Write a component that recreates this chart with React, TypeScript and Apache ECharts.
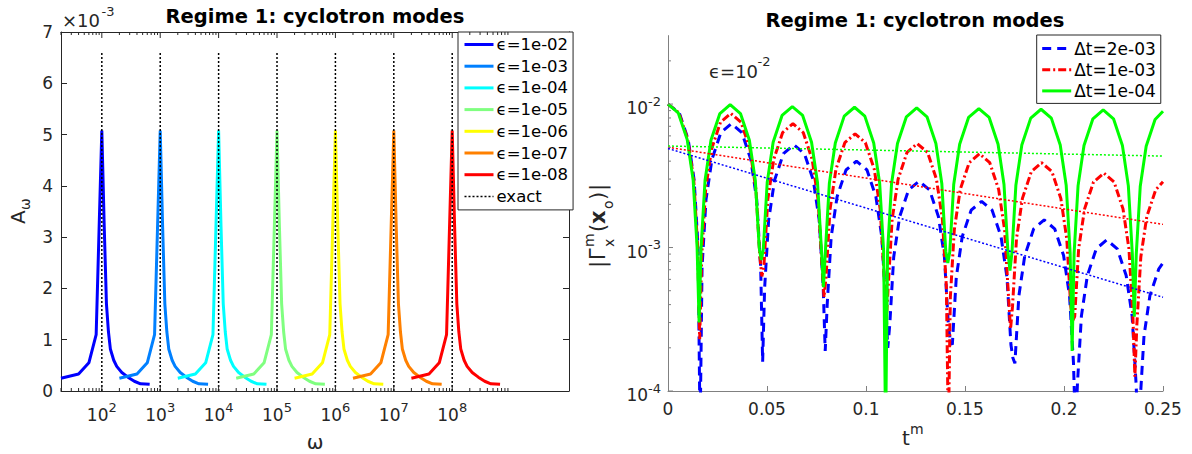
import React, { useEffect, useRef } from 'react';
import * as echarts from 'echarts';

const FONT = 'DejaVu Sans';
const AXIS_DARK = '#262626';
const AXIS_GRAY = '#808080';

// ---------------- Left panel: A_omega versus omega ----------------
const epsilonValues = [1e-2, 1e-3, 1e-4, 1e-5, 1e-6, 1e-7, 1e-8];
const epsilonLabels = ['ϵ=1e-02', 'ϵ=1e-03', 'ϵ=1e-04', 'ϵ=1e-05', 'ϵ=1e-06', 'ϵ=1e-07', 'ϵ=1e-08'];
const jetColors = ['#0000ff', '#0080ff', '#00ffff', '#80ff80', '#ffff00', '#ff8000', '#ff0000'];
// sampled frequencies in units of the resonance 1/epsilon (same shape for every epsilon)
const omegaOverResonance = [0.2, 0.4, 0.6, 0.8, 1.0, 1.1, 1.2, 1.3, 1.4, 1.6, 1.8, 2.2, 2.8, 3.6, 4.6, 6.6];
// A_omega in units of 1e-3
const amplitudeE3 = [0.25, 0.33, 0.55, 1.1, 5.08, 3.2, 1.7, 1.15, 0.82, 0.6, 0.48, 0.36, 0.27, 0.19, 0.14, 0.13];
const exactOmega = [1e2, 1e3, 1e4, 1e5, 1e6, 1e7, 1e8];
const exactTopE3 = 6.6;
const leftXMajorTicks = [1e2, 1e3, 1e4, 1e5, 1e6, 1e7, 1e8];
const leftXMinorMultipliers = [2, 3, 4, 5, 6, 7, 8, 9];
const leftXMinorDecades = [1e1, 1e2, 1e3, 1e4, 1e5, 1e6, 1e7, 1e8];

// ---------------- Right panel: |Gamma^m_x(x_o)| versus t^m ----------------
const dtLabels = ['Δt=2e-03', 'Δt=1e-03', 'Δt=1e-04'];
const dtColors = ['#0000ff', '#ff0000', '#00ff00'];

const blueDt2e3 = [
  [0, 0.01], [0.0057, 0.00867], [0.0102, 0.00565], [0.0132, 0.00296], [0.0152, 0.001], [0.0162, 0.00005],
  [0.0172, 0.00073], [0.0192, 0.00216], [0.0222, 0.00412], [0.0267, 0.00633], [0.032, 0.0073], [0.0373, 0.00633], [0.0418, 0.00412], [0.0448, 0.00216], [0.0468, 0.00073], [0.0478, 0.00016],
  [0.0488, 0.00052], [0.0508, 0.00154], [0.0538, 0.00294], [0.0583, 0.00451], [0.0636, 0.0052], [0.0689, 0.00451], [0.0734, 0.00294], [0.0764, 0.00154], [0.0784, 0.00052], [0.0794, 0.00019],
  [0.0804, 0.0004], [0.0824, 0.00118], [0.0854, 0.00226], [0.0899, 0.00347], [0.0952, 0.004], [0.1005, 0.00347], [0.105, 0.00226], [0.108, 0.00118], [0.11, 0.0004], [0.111, 0.0002],
  [0.112, 0.00029], [0.114, 0.00086], [0.117, 0.00164], [0.1215, 0.00252], [0.1268, 0.0029], [0.1321, 0.00252], [0.1366, 0.00164], [0.1396, 0.00086], [0.1416, 0.00029], [0.1426, 0.00022],
  [0.1436, 0.00021], [0.1456, 0.00062], [0.1486, 0.00119], [0.1531, 0.00182], [0.1584, 0.0021], [0.1637, 0.00182], [0.1682, 0.00119], [0.1712, 0.00062], [0.1732, 0.00021], [0.1742, 0.00017],
  [0.1752, 0.000156], [0.1772, 0.00046], [0.1802, 0.00088], [0.1847, 0.00135], [0.19, 0.00156], [0.1953, 0.00135], [0.1998, 0.00088], [0.2028, 0.00046], [0.2048, 0.000156], [0.2058, 0.00005],
  [0.2068, 0.000113], [0.2088, 0.000334], [0.2118, 0.000638], [0.2163, 0.00098], [0.2216, 0.00113], [0.2269, 0.00098], [0.2314, 0.000638], [0.2344, 0.000334], [0.2364, 0.000113], [0.2374, 0.00005],
  [0.2384, 0.000082], [0.2404, 0.000242], [0.2434, 0.000463], [0.2479, 0.000711], [0.25, 0.00078],
];

const redDt1e3 = [
  [0, 0.01], [0.0055, 0.00867], [0.01, 0.00565], [0.013, 0.00296], [0.015, 0.001], [0.016, 0.00023],
  [0.017, 0.00086], [0.019, 0.00254], [0.022, 0.00486], [0.0265, 0.00746], [0.0317, 0.0086], [0.0369, 0.00746], [0.0414, 0.00486], [0.0444, 0.00254], [0.0464, 0.00086], [0.0474, 0.00063],
  [0.0484, 0.00073], [0.0504, 0.00216], [0.0534, 0.00412], [0.0579, 0.00633], [0.0631, 0.0073], [0.0683, 0.00633], [0.0728, 0.00412], [0.0758, 0.00216], [0.0778, 0.00073], [0.0788, 0.00045],
  [0.0798, 0.00062], [0.0818, 0.00183], [0.0848, 0.0035], [0.0893, 0.00538], [0.0945, 0.0062], [0.0997, 0.00538], [0.1042, 0.0035], [0.1072, 0.00183], [0.1092, 0.00062], [0.1102, 0.0003],
  [0.1112, 0.00053], [0.1132, 0.00157], [0.1162, 0.00299], [0.1207, 0.0046], [0.1259, 0.0053], [0.1311, 0.0046], [0.1356, 0.00299], [0.1386, 0.00157], [0.1406, 0.00053], [0.1416, 0.00005],
  [0.1426, 0.00045], [0.1446, 0.00133], [0.1476, 0.00254], [0.1521, 0.0039], [0.1573, 0.0045], [0.1625, 0.0039], [0.167, 0.00254], [0.17, 0.00133], [0.172, 0.00045], [0.173, 0.00027],
  [0.174, 0.00039], [0.176, 0.00115], [0.179, 0.0022], [0.1835, 0.00338], [0.1887, 0.0039], [0.1939, 0.00338], [0.1984, 0.0022], [0.2014, 0.00115], [0.2034, 0.00039], [0.2044, 0.00031],
  [0.2054, 0.00033], [0.2074, 0.00098], [0.2104, 0.00186], [0.2149, 0.00286], [0.2201, 0.0033], [0.2253, 0.00286], [0.2298, 0.00186], [0.2328, 0.00098], [0.2348, 0.00033], [0.2358, 0.000126],
  [0.2368, 0.00029], [0.2388, 0.00086], [0.2418, 0.00164], [0.2463, 0.00252], [0.25, 0.00287],
];

const greenDt1e4 = [
  [0, 0.01], [0.0052, 0.00867], [0.0097, 0.00565], [0.0127, 0.00296], [0.0147, 0.001], [0.0157, 0.0003],
  [0.0167, 0.00099], [0.0187, 0.00293], [0.0217, 0.00559], [0.0262, 0.00859], [0.0314, 0.0099], [0.0366, 0.00859], [0.0411, 0.00559], [0.0441, 0.00293], [0.0461, 0.00099], [0.0471, 0.00082],
  [0.0481, 0.00096], [0.0501, 0.00284], [0.0531, 0.00542], [0.0576, 0.00833], [0.0628, 0.0096], [0.068, 0.00833], [0.0725, 0.00542], [0.0755, 0.00284], [0.0775, 0.00096], [0.0785, 0.00053],
  [0.0795, 0.00095], [0.0815, 0.00281], [0.0845, 0.00536], [0.089, 0.00824], [0.0942, 0.0095], [0.0994, 0.00824], [0.1039, 0.00536], [0.1069, 0.00281], [0.1089, 0.00095], [0.1099, 0.00005],
  [0.1109, 0.00094], [0.1129, 0.00278], [0.1159, 0.00531], [0.1204, 0.00815], [0.1256, 0.0094], [0.1308, 0.00815], [0.1353, 0.00531], [0.1383, 0.00278], [0.1403, 0.00094], [0.1413, 0.00078],
  [0.1423, 0.00093], [0.1443, 0.00275], [0.1473, 0.00525], [0.1518, 0.00807], [0.157, 0.0093], [0.1622, 0.00807], [0.1667, 0.00525], [0.1697, 0.00275], [0.1717, 0.00093], [0.1727, 0.00069],
  [0.1737, 0.00092], [0.1757, 0.00272], [0.1787, 0.00519], [0.1832, 0.00798], [0.1884, 0.0092], [0.1936, 0.00798], [0.1981, 0.00519], [0.2011, 0.00272], [0.2031, 0.00092], [0.2041, 0.00019],
  [0.2051, 0.00091], [0.2071, 0.00269], [0.2101, 0.00514], [0.2146, 0.00789], [0.2198, 0.0091], [0.225, 0.00789], [0.2295, 0.00514], [0.2325, 0.00269], [0.2345, 0.00091], [0.2355, 0.00033],
  [0.2365, 0.0009], [0.2385, 0.00266], [0.2415, 0.00508], [0.246, 0.00781], [0.25, 0.0089],
];

// decay-rate fits (dotted), end points at t=0 and t=0.25
const blueFit = [[0, 0.0049], [0.25, 0.00045]];
const redFit = [[0, 0.005], [0.25, 0.00145]];
const greenFit = [[0, 0.0051], [0.25, 0.00434]];

const rightYMajorTicks = [1e-4, 1e-3, 1e-2];
const rightYMinorTicks = [
  2e-4, 3e-4, 4e-4, 5e-4, 6e-4, 7e-4, 8e-4, 9e-4,
  2e-3, 3e-3, 4e-3, 5e-3, 6e-3, 7e-3, 8e-3, 9e-3, 2e-2,
];

const supRich = {
  b: { fontSize: 17, fontFamily: FONT, color: AXIS_DARK, padding: [8, 0, 0, 0] },
  s: { fontSize: 13, fontFamily: FONT, color: AXIS_DARK, padding: [0, 0, 6, 0] },
};

function powerLabel(v: number, lo: number, hi: number) {
  const e = Math.round(Math.log10(v));
  if (Math.abs(v / Math.pow(10, e) - 1) > 1e-6 || e < lo || e > hi) return '';
  return `{b|10}{s|${e}}`;
}

function buildOption() {
  const leftCurves = epsilonValues.map((eps, k) => ({
    type: 'line',
    name: epsilonLabels[k],
    xAxisIndex: 0,
    yAxisIndex: 0,
    symbol: 'none',
    lineStyle: { color: jetColors[k], width: 3 },
    itemStyle: { color: jetColors[k] },
    data: omegaOverResonance.map((r, i) => [r / eps, amplitudeE3[i]]),
  }));
  const exactLines = exactOmega.map((w) => ({
    type: 'line',
    name: 'exact',
    xAxisIndex: 0,
    yAxisIndex: 0,
    symbol: 'none',
    lineStyle: { color: '#000', width: 1.5, type: [2, 2] },
    itemStyle: { color: '#000' },
    data: [[w, 0], [w, exactTopE3]],
  }));

  const leftTickData: number[][] = [];
  leftXMajorTicks.forEach((v) => leftTickData.push([v, 6]));
  leftXMinorDecades.forEach((d) =>
    leftXMinorMultipliers.forEach((m) => {
      const v = m * d;
      if (v >= 20) leftTickData.push([v, 3]);
    })
  );

  const rightTickData: number[][] = [];
  rightYMajorTicks.forEach((v) => rightTickData.push([0, v, 5]));
  rightYMinorTicks.forEach((v) => rightTickData.push([0, v, 3]));

  const rightCurves = [blueDt2e3, redDt1e3, greenDt1e4].map((d, k) => ({
    type: 'line',
    name: dtLabels[k],
    xAxisIndex: 2,
    yAxisIndex: 2,
    symbol: 'none',
    lineStyle: {
      color: dtColors[k],
      width: 3,
      type: k === 0 ? [9, 6] : k === 1 ? [8, 3, 2, 3] : 'solid',
    },
    itemStyle: { color: dtColors[k] },
    data: d,
  }));
  const fits = [blueFit, redFit, greenFit].map((d, k) => ({
    type: 'line',
    name: 'fit' + k,
    xAxisIndex: 2,
    yAxisIndex: 2,
    symbol: 'none',
    lineStyle: { color: dtColors[k], width: 1.5, type: [2, 2] },
    data: d,
  }));

  const txt = (x: number, y: number, text: string, size: number, extra: any = {}) => ({
    type: 'text',
    x,
    y,
    style: {
      text,
      fontSize: size,
      fontFamily: FONT,
      fill: extra.fill || AXIS_DARK,
      fontWeight: extra.bold ? 'bold' : 'normal',
      align: extra.align || 'left',
      verticalAlign: 'middle',
    },
  });

  const legendCommon = {
    orient: 'vertical',
    itemWidth: 29,
    itemHeight: 12,
    backgroundColor: '#fff',
    borderColor: AXIS_DARK,
    borderWidth: 1,
    borderRadius: 0,
    selectedMode: false,
    itemStyle: { opacity: 0 },
    lineStyle: { width: 3, opacity: 1 },
  };

  return {
    animation: false,
    textStyle: { fontFamily: FONT },
    grid: [
      { left: 61, top: 32, width: 508, height: 359, show: false },
      { left: 668, top: 35.6, width: 495, height: 355.4, show: false },
    ],
    xAxis: [
      {
        gridIndex: 0, type: 'log', min: 20, max: 1e10, position: 'bottom',
        axisLine: { show: true, onZero: false, lineStyle: { color: AXIS_DARK, width: 1 } },
        axisTick: { show: false }, splitLine: { show: false }, minorTick: { show: false },
        axisLabel: {
          margin: 7, fontSize: 17, color: AXIS_DARK,
          formatter: (v: number) => powerLabel(v, 2, 8), rich: supRich,
        },
      },
      {
        gridIndex: 0, type: 'log', min: 20, max: 1e10, position: 'top',
        axisLine: { show: true, onZero: false, lineStyle: { color: AXIS_DARK, width: 1 } },
        axisTick: { show: false }, splitLine: { show: false }, axisLabel: { show: false },
      },
      {
        gridIndex: 1, type: 'value', min: 0, max: 0.25, interval: 0.05, position: 'bottom',
        axisLine: { show: true, onZero: false, lineStyle: { color: AXIS_GRAY, width: 1 } },
        axisTick: { show: true, inside: true, length: 5, lineStyle: { color: AXIS_GRAY } },
        splitLine: { show: false },
        axisLabel: { margin: 9, fontSize: 17, color: AXIS_DARK, fontFamily: FONT },
      },
    ],
    yAxis: [
      {
        gridIndex: 0, type: 'value', min: 0, max: 7, interval: 1, position: 'left',
        axisLine: { show: true, onZero: false, lineStyle: { color: AXIS_DARK, width: 1 } },
        axisTick: { show: true, inside: true, length: 6, lineStyle: { color: AXIS_DARK } },
        splitLine: { show: false },
        axisLabel: { margin: 8, fontSize: 17, color: AXIS_DARK, fontFamily: FONT },
      },
      {
        gridIndex: 0, type: 'value', min: 0, max: 7, interval: 1, position: 'right',
        axisLine: { show: true, onZero: false, lineStyle: { color: AXIS_DARK, width: 1 } },
        axisTick: { show: true, inside: true, length: 6, lineStyle: { color: AXIS_DARK } },
        splitLine: { show: false }, axisLabel: { show: false },
      },
      {
        gridIndex: 1, type: 'log', min: 1e-4, max: 0.03, position: 'left',
        axisLine: { show: true, onZero: false, lineStyle: { color: AXIS_GRAY, width: 1 } },
        axisTick: { show: false }, splitLine: { show: false }, minorTick: { show: false },
        axisLabel: {
          margin: 7, fontSize: 17, color: AXIS_DARK,
          formatter: (v: number) => powerLabel(v, -4, -2), rich: supRich,
        },
      },
    ],
    legend: [
      {
        ...legendCommon,
        data: [
          ...epsilonLabels,
          { name: 'exact', lineStyle: { width: 1.5, color: '#000', type: [2, 2] } },
        ],
        left: 458, top: 32,
        padding: [4, 5, 5, 5], itemGap: 4.7,
        textStyle: { fontSize: 16.5, fontFamily: FONT, color: '#000', padding: [0, 0, 0, -2] },
      },
      {
        ...legendCommon,
        data: dtLabels,
        left: 1036.7, top: 35,
        padding: [5, 5, 4, 4], itemGap: 4.2,
        textStyle: { fontSize: 17, fontFamily: FONT, color: '#000', padding: [0, 0, 0, -2] },
      },
    ],
    series: [
      ...leftCurves,
      ...exactLines,
      {
        type: 'custom', name: 'leftTicks', xAxisIndex: 0, yAxisIndex: 0, silent: true, z: 5,
        data: leftTickData,
        renderItem: (params: any, api: any) => {
          const v = api.value(0);
          const len = api.value(1);
          const b = api.coord([v, 0]);
          const t = api.coord([v, 7]);
          const st = { stroke: AXIS_DARK, lineWidth: 1 };
          return {
            type: 'group',
            children: [
              { type: 'line', shape: { x1: b[0], y1: b[1], x2: b[0], y2: b[1] - len }, style: st },
              { type: 'line', shape: { x1: t[0], y1: t[1], x2: t[0], y2: t[1] + len }, style: st },
            ],
          };
        },
      },
      ...rightCurves,
      ...fits,
      {
        type: 'custom', name: 'rightTicks', xAxisIndex: 2, yAxisIndex: 2, silent: true, z: 5,
        data: rightTickData,
        renderItem: (params: any, api: any) => {
          const p = api.coord([0, api.value(1)]);
          const len = api.value(2);
          return {
            type: 'line',
            shape: { x1: p[0], y1: p[1], x2: p[0] + len, y2: p[1] },
            style: { stroke: AXIS_GRAY, lineWidth: 1 },
          };
        },
      },
    ],
    graphic: [
      txt(315, 16, 'Regime 1: cyclotron modes', 19.5, { bold: true, align: 'center', fill: '#000' }),
      txt(915, 20, 'Regime 1: cyclotron modes', 19.5, { bold: true, align: 'center', fill: '#000' }),
      txt(62, 20, '×10', 18),
      txt(101.5, 11, '-3', 13),
      txt(315, 442, 'ω', 20, { align: 'center' }),
      txt(902, 438, 't', 20),
      txt(910, 429, 'm', 14),
      txt(709, 71, 'ϵ=10', 18),
      txt(757.5, 61, '-2', 13),
      {
        type: 'group', x: 18, y: 224, rotation: Math.PI / 2,
        children: [txt(0, 0, 'A', 20), txt(14, 7, 'ω', 14)],
      },
      {
        type: 'group', x: 597.5, y: 268, rotation: Math.PI / 2,
        children: [
          txt(0, 0, '|', 21),
          txt(8, 0, 'Γ', 21),
          txt(21, -9, 'm', 14),
          txt(21, 11, 'x', 14),
          txt(36, 0, '(', 21),
          txt(44, 0, 'x', 21, { bold: true }),
          txt(59, 10, 'o', 14),
          txt(68, 0, ')', 21),
          txt(77, 0, '|', 21),
        ],
      },
    ],
  };
}

export default function App() {
  const ref = useRef<HTMLDivElement>(null);
  useEffect(() => {
    if (!ref.current) return;
    const chart = echarts.init(ref.current, undefined, { renderer: 'svg' });
    chart.setOption(buildOption() as any);
    return () => chart.dispose();
  }, []);
  return (
    <div
      ref={ref}
      style={{ position: 'absolute', left: 0, top: 0, width: 1192, height: 454, background: '#fff' }}
    />
  );
}
